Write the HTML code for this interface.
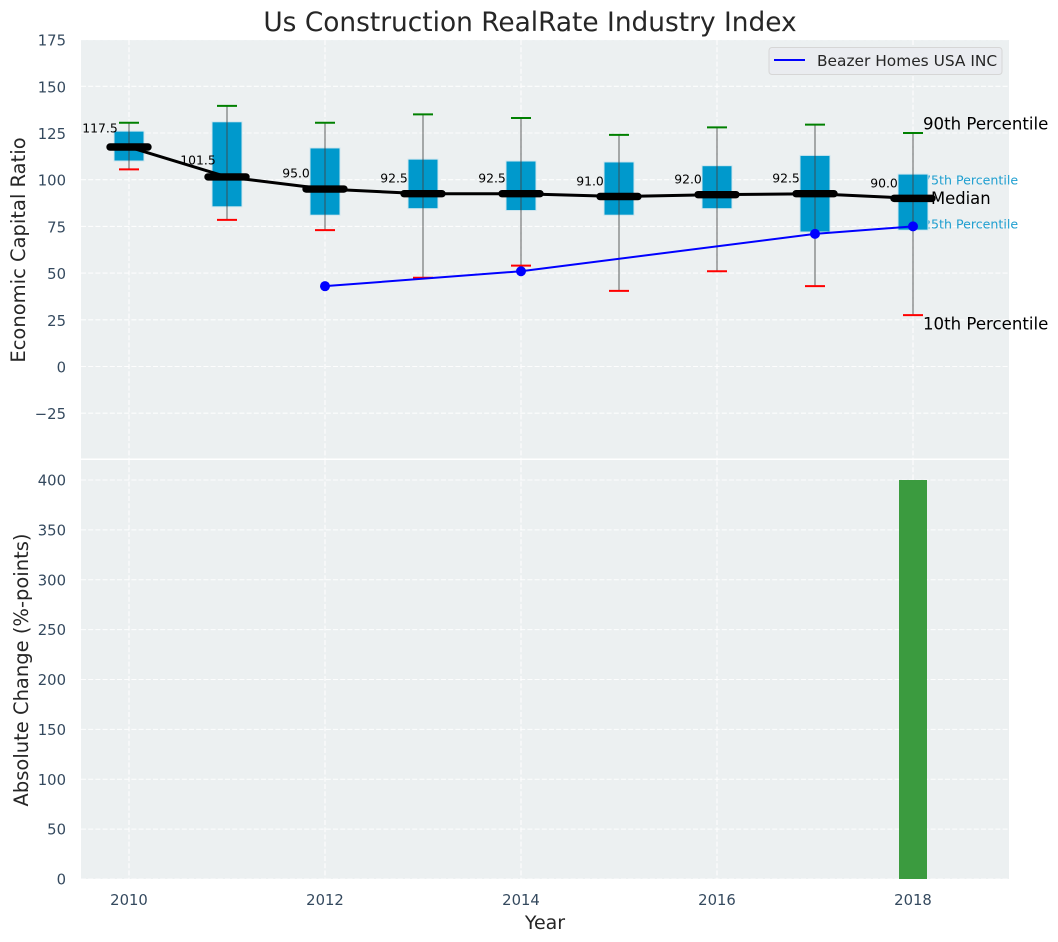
<!DOCTYPE html>
<html>
<head>
<meta charset="utf-8">
<title>Us Construction RealRate Industry Index</title>
<style>
html,body{margin:0;padding:0;background:#fff;}
svg{display:block;font-family:"DejaVu Sans","Liberation Sans",sans-serif;}
</style>
</head>
<body>
<svg id="chart" width="1058" height="942" viewBox="0 0 1058 942" xmlns="http://www.w3.org/2000/svg">
  <rect x="0" y="0" width="1058" height="942" fill="#ffffff"/>
  <text x="530" y="31" text-anchor="middle" font-size="26.4" fill="#262626">Us Construction RealRate Industry Index</text>
  <rect x="81" y="40" width="928" height="418.5" fill="#ecf0f1"/>
  <rect x="81" y="460" width="928" height="419" fill="#ecf0f1"/>
  <g id="grid"></g>
  <g id="notes-back"></g>
  <g id="boxes"></g>
  <g id="series"></g>
  <g id="bars"></g>
  <g id="ticks"></g>
  <text transform="translate(25 250) rotate(-90)" text-anchor="middle" font-size="19.5" fill="#262626">Economic Capital Ratio</text>
  <text transform="translate(28 670) rotate(-90)" text-anchor="middle" font-size="19.5" fill="#262626">Absolute Change (%-points)</text>
  <text x="545" y="929" text-anchor="middle" font-size="19" fill="#262626">Year</text>
  <g>
    <rect x="769" y="47.5" width="233" height="27" rx="3" fill="#eaecf0" stroke="#d6d6d6" stroke-width="1"/>
    <line x1="774" y1="60" x2="805" y2="60" stroke="#0000ff" stroke-width="2"/>
    <text x="817" y="66" font-size="15.4" fill="#262626">Beazer Homes USA INC</text>
  </g>
</svg>
<script>
const years = [2010, 2011, 2012, 2013, 2014, 2015, 2016, 2017, 2018];
const p90 = [130.5, 139.5, 130.5, 135, 133, 124, 128, 129.5, 125];
const p75 = [126, 131, 117, 111, 110, 109.5, 107.5, 113, 103];
const median = [117.5, 101.5, 95, 92.5, 92.5, 91, 92, 92.5, 90];
const p25 = [110, 85.5, 81, 84.5, 83.5, 81, 84.5, 72, 73];
const p10 = [105.5, 78.5, 73, 47.5, 54, 40.5, 51, 43, 27.5];
const companyYears = [2012, 2014, 2017, 2018];
const companyValues = [43, 51, 71, 75];
const changeYears = [2018];
const changeValues = [400];
const xTickYears = [2010, 2012, 2014, 2016, 2018];
const topTicks = [175, 150, 125, 100, 75, 50, 25, 0, -25];
const bottomTicks = [400, 350, 300, 250, 200, 150, 100, 50, 0];

const NS = 'http://www.w3.org/2000/svg';
function xPos(year) { return 129 + (year - 2010) * 98; }
function yTop(v) { return 366.5 - v * 1.868; }
function yBottom(v) { return 879 - v * 0.9975; }
function mk(parentId, tag, attrs, text) {
  const el = document.createElementNS(NS, tag);
  for (const k in attrs) el.setAttribute(k, attrs[k]);
  if (text !== undefined) el.textContent = text;
  document.getElementById(parentId).appendChild(el);
  return el;
}
const gridStyle = { stroke: '#ffffff', 'stroke-width': 1.1, 'stroke-dasharray': '5 2.2', opacity: 0.9 };
let el;

xTickYears.forEach(function (yr) {
  el = mk('grid', 'line', Object.assign({ x1: xPos(yr), x2: xPos(yr), y1: 40, y2: 458.5 }, gridStyle));
  
  
  el = mk('grid', 'line', Object.assign({ x1: xPos(yr), x2: xPos(yr), y1: 460, y2: 879 }, gridStyle));
  
  
  el = mk('ticks', 'text', { x: xPos(yr), y: 905, 'text-anchor': 'middle', 'font-size': 14.8, fill: '#34495e' }, String(yr));
  
  
});
topTicks.forEach(function (t) {
  el = mk('grid', 'line', Object.assign({ x1: 81, x2: 1009, y1: yTop(t), y2: yTop(t) }, gridStyle));
  
  
  el = mk('ticks', 'text', { x: 66, y: yTop(t) + 6, 'text-anchor': 'end', 'font-size': 14.8, fill: '#34495e' }, String(t).replace('-', '\u2212'));
  
  
});
bottomTicks.forEach(function (t) {
  el = mk('grid', 'line', Object.assign({ x1: 81, x2: 1009, y1: yBottom(t), y2: yBottom(t) }, gridStyle));
  
  
  el = mk('ticks', 'text', { x: 66, y: yBottom(t) + 5.5, 'text-anchor': 'end', 'font-size': 14.8, fill: '#34495e' }, String(t));
  
  
});

const last = years.length - 1;
const xLast = xPos(years[last]);
el = mk('notes-back', 'text', { x: xLast + 10, y: yTop(p75[last]) + 10.5, 'font-size': 12.6, fill: '#1f9fd0' }, '75th Percentile');


el = mk('notes-back', 'text', { x: xLast + 10, y: yTop(p25[last]) - 1.5, 'font-size': 12.6, fill: '#1f9fd0' }, '25th Percentile');



years.forEach(function (yr, i) {
  const x = xPos(yr);
  el = mk('boxes', 'rect', { x: x - 15, y: yTop(p75[i]), width: 30, height: yTop(p25[i]) - yTop(p75[i]), fill: '#0099cc', stroke: '#cfe6ee', 'stroke-width': 1 });
  
  
  el = mk('boxes', 'line', { x1: x, x2: x, y1: yTop(p90[i]), y2: yTop(p10[i]), stroke: '#444444', 'stroke-opacity': 0.65, 'stroke-width': 1.3 });
  
  
  el = mk('boxes', 'line', { x1: x - 10, x2: x + 10, y1: yTop(p90[i]), y2: yTop(p90[i]), stroke: '#008000', 'stroke-width': 2 });
  
  
  el = mk('boxes', 'line', { x1: x - 10, x2: x + 10, y1: yTop(p10[i]), y2: yTop(p10[i]), stroke: '#ff0000', 'stroke-width': 2 });
  
  
  el = mk('series', 'text', { x: x - 29, y: yTop(median[i] * 1.065), 'text-anchor': 'middle', 'font-size': 12.4, fill: '#000000' }, median[i].toFixed(1));
  
  
});

el = mk('series', 'polyline', { points: years.map(function (y, i) { return xPos(y) + ',' + yTop(median[i]); }).join(' '), fill: 'none', stroke: '#000000', 'stroke-width': 3 });


years.forEach(function (yr, i) {
  const x = xPos(yr);
  el = mk('series', 'line', { x1: x - 19, x2: x + 19, y1: yTop(median[i]), y2: yTop(median[i]), stroke: '#000000', 'stroke-width': 7.4, 'stroke-linecap': 'round' });
  
  
});
el = mk('series', 'polyline', { points: companyYears.map(function (y, i) { return xPos(y) + ',' + yTop(companyValues[i]); }).join(' '), fill: 'none', stroke: '#0000ff', 'stroke-width': 2 });


companyYears.forEach(function (yr, i) {
  el = mk('series', 'circle', { cx: xPos(yr), cy: yTop(companyValues[i]), r: 5, fill: '#0000ff' });
  
  
});

el = mk('series', 'text', { x: xLast + 10, y: yTop(p90[last]) - 3.5, 'font-size': 16.6, fill: '#000000' }, '90th Percentile');


el = mk('series', 'text', { x: xLast + 18, y: yTop(median[last]) + 5.5, 'font-size': 16.4, fill: '#000000' }, 'Median');


el = mk('series', 'text', { x: xLast + 10, y: yTop(p10[last]) + 14.5, 'font-size': 16.6, fill: '#000000' }, '10th Percentile');



changeYears.forEach(function (yr, i) {
  el = mk('bars', 'rect', { x: xPos(yr) - 14, y: yBottom(changeValues[i]), width: 28, height: yBottom(0) - yBottom(changeValues[i]), fill: '#3b9b3f' });
  
  
});
</script>
</body>
</html>
